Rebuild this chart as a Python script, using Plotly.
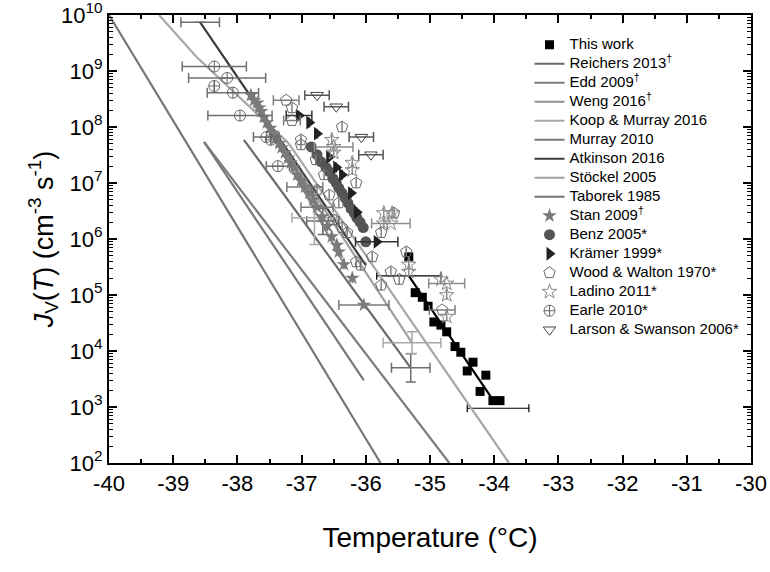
import plotly.graph_objects as go

# ---------------- data ----------------
# This work (black squares)
tw_T = [-35.33, -35.23, -35.12, -35.03, -34.94, -34.83, -34.74, -34.61, -34.52, -34.33, -34.42, -34.13, -34.22, -34.02, -33.91]
tw_J = [4.8e5, 1.1e5, 9.1e4, 6.3e4, 3.3e4, 2.9e4, 2.2e4, 1.2e4, 9.5e3, 6.3e3, 4.4e3, 3.7e3, 1.9e3, 1.3e3, 1.3e3]
tw_fit_T = [-35.33, -34.03]
tw_fit_J = [2.2e5, 1.4e3]
tw_err_T = [-35.33, -33.94]
tw_err_J = [2.2e5, 9.5e2]
tw_err_x = [0.5, 0.48]

# Lines
taborek_T = [-40.0, -35.77]
taborek_J = [1e10, 1e2]
koop_T = [-39.22, -38.64, -37.20, -35.48, -33.77]
koop_J = [1e10, 1.8e9, 5.1e7, 7.2e4, 1e2]
murray_T = [-38.52, -36.03]
murray_J = [5.4e7, 3.0e3]
edd_T = [-38.52, -34.70]
edd_J = [5.4e7, 1e2]
reichers_T = [-37.90, -35.30]
reichers_J = [5.9e7, 5.0e3]
atkinson_T = [-38.58, -36.00]
atkinson_J = [7.4e9, 3.4e5]
stockel_T = [-37.66, -35.28]
stockel_J = [2.0e8, 1.4e4]
weng_T = [-37.80, -36.30]
weng_J = [4.0e8, 3.0e5]

N = None  # no error bar on that point

# Stan 2009 (filled stars)
stan_T = [-37.79, -37.74, -37.69, -37.66, -37.63, -37.59, -37.54, -37.49, -37.45, -37.40,
          -37.35, -37.31, -37.26, -37.21, -37.17, -37.12, -37.07, -37.01, -36.95, -36.88,
          -36.82, -36.76, -36.68, -36.60, -36.53, -36.45, -36.42, -36.34, -36.21, -36.03]
stan_J = [3.7e8, 3.0e8, 2.7e8, 2.2e8, 1.9e8, 1.5e8, 1.2e8, 9.5e7, 7.8e7, 6.3e7,
          5.1e7, 4.3e7, 3.5e7, 2.8e7, 2.3e7, 1.9e7, 1.4e7, 1.1e7, 8.5e6, 6.6e6,
          5.0e6, 3.7e6, 2.5e6, 1.7e6, 1.1e6, 7.8e5, 5.9e5, 3.5e5, 2.0e5, 6.6e4]
stan_xerr = [N, N, N, N, N, N, N, N, N, N,
             N, N, N, N, N, N, N, N, 0.28, N,
             N, 0.25, N, N, N, N, N, N, N, 0.39]

# Benz 2005 (filled circles)
benz_T = [-36.85, -36.76, -36.70, -36.62, -36.57, -36.51, -36.46, -36.42, -36.37,
          -36.32, -36.28, -36.23, -36.18, -36.14, -36.09, -36.04, -36.00]
benz_J = [4.4e7, 3.2e7, 2.4e7, 1.9e7, 1.6e7, 1.2e7, 1.0e7, 8.1e6, 6.6e6,
          5.4e6, 4.4e6, 3.5e6, 2.9e6, 2.4e6, 2.0e6, 1.6e6, 8.9e5]

# Kramer 1999 (right triangles)
kramer_T = [-37.04, -36.88, -36.76, -36.57, -36.46, -36.37, -36.23, -36.14, -35.83]
kramer_J = [1.6e8, 1.2e8, 7.6e7, 2.9e7, 1.9e7, 1.4e7, 6.6e6, 3.0e6, 8.9e5]
kramer_xerr = [0.2, N, N, N, N, N, N, N, 0.33]

# Wood & Walton 1970 (open pentagons)
wood_T = [-37.24, -37.15, -37.15, -36.37, -37.01, -37.01, -36.78, -36.65, -36.15, -36.76,
          -36.57, -36.42, -36.50, -36.37, -36.29, -35.76, -35.56, -35.90, -35.37, -36.15,
          -36.08, -35.61, -35.48, -35.76, -34.81]
wood_J = [3.0e8, 2.2e8, 1.3e8, 1.0e8, 5.9e7, 4.8e7, 2.6e7, 1.4e7, 1.0e7, 7.5e6,
          6.1e6, 4.4e6, 2.2e6, 1.6e6, 1.3e6, 1.3e6, 2.9e6, 4.8e5, 5.9e5, 3.9e5,
          3.4e5, 2.6e5, 1.9e5, 1.5e5, 5.4e4]
wood_xerr = [0.2, N, 0.13, N, N, N, N, N, N, N,
             N, N, N, N, N, N, N, N, N, N,
             N, N, N, N, 0.2]

# Ladino 2011 (open stars)
ladino_T = [-36.53, -36.50, -36.50, -36.21, -36.21, -35.72, -35.59, -35.72, -35.61,
            -35.33, -35.33, -34.83, -34.74, -34.74, -34.74]
ladino_J = [5.9e7, 4.4e7, 3.5e7, 2.3e7, 1.7e7, 2.9e6, 2.9e6, 1.9e6, 1.9e6,
            3.5e5, 2.6e5, 1.9e5, 1.6e5, 1.0e5, 4.1e4]
ladino_xerr = [N, 0.3, N, N, N, N, N, N, 0.3, N, N, N, 0.28, N, N]

# Earle 2010 (crossed circles)
earle_T = [-38.36, -38.16, -38.36, -38.07, -37.96, -37.55, -37.48, -37.37]
earle_J = [1.2e9, 7.5e8, 5.4e8, 4.1e8, 1.6e8, 6.6e7, 5.9e7, 2.0e7]
earle_xerr = [0.5, 0.6, N, 0.4, 0.5, 0.2, N, 0.18]

# Larson & Swanson 2006 (open down triangles)
larson_T = [-36.76, -36.46, -36.07, -35.92]
larson_J = [3.7e8, 2.3e8, 6.6e7, 3.2e7]
larson_xerr = [0.19, 0.19, 0.19, 0.19]

# stand-alone error crosses
cross_dark_T = [-35.30, -36.67, -38.58]
cross_dark_J = [5.0e3, 2.1e6, 7.4e9]
cross_dark_xerr = [0.3, 0.25, 0.3]
cross_dark_yup = [3.9e3, 1.4e6, N]
cross_dark_ydn = [2.2e3, 0.9e6, N]
cross_light_T = [-35.28, -36.80]
cross_light_J = [1.4e4, 2.4e6]
cross_light_xerr = [0.45, 0.35]
cross_light_yup = [8.0e3, 4.0e6]
cross_light_ydn = [5.0e3, 1.6e6]

# axis ticks
x_ticks = [-40, -39, -38, -37, -36, -35, -34, -33, -32, -31, -30]
x_ticktext = ["-40", "-39", "-38", "-37", "-36", "-35", "-34", "-33", "-32", "-31", "-30"]
y_ticks = [1e2, 1e3, 1e4, 1e5, 1e6, 1e7, 1e8, 1e9, 1e10]
y_ticktext = ["10<sup>2</sup>", "10<sup>3</sup>", "10<sup>4</sup>", "10<sup>5</sup>", "10<sup>6</sup>",
              "10<sup>7</sup>", "10<sup>8</sup>", "10<sup>9</sup>", "10<sup>10</sup>"]

# ---------------- figure ----------------
FONT = "Arial, Liberation Sans, sans-serif"


def lg(s):
    return '<span style="font-size:15px">' + s + "</span>"


def ebar(arr, col):
    return dict(type="data", array=arr, color=col, thickness=1.5, width=5)


fig = go.Figure()

fig.add_trace(go.Scatter(x=tw_fit_T, y=tw_fit_J, mode="lines", line=dict(color="black", width=2.2),
                         showlegend=False, hoverinfo="skip"))
fig.add_trace(go.Scatter(x=tw_err_T, y=tw_err_J, mode="markers", marker=dict(size=1, color="rgba(0,0,0,0)"),
                         error_x=dict(type="data", array=tw_err_x, color="black", thickness=1.2, width=4),
                         showlegend=False, hoverinfo="skip"))
fig.add_trace(go.Scatter(x=tw_T, y=tw_J, mode="markers", name=lg("This work"),
                         marker=dict(symbol="square", size=9, color="black")))

line_specs = [
    ("Reichers 2013<sup>†</sup>", reichers_T, reichers_J, "#6a6a6a"),
    ("Edd 2009<sup>†</sup>", edd_T, edd_J, "#7c7c7c"),
    ("Weng 2016<sup>†</sup>", weng_T, weng_J, "#8e8e8e"),
    ("Koop & Murray 2016", koop_T, koop_J, "#a8a8a8"),
    ("Murray 2010", murray_T, murray_J, "#787878"),
    ("Atkinson 2016", atkinson_T, atkinson_J, "#3c3c3c"),
    ("Stöckel 2005", stockel_T, stockel_J, "#a0a0a0"),
    ("Taborek 1985", taborek_T, taborek_J, "#767676"),
]
for name, xs, ys, col in line_specs:
    fig.add_trace(go.Scatter(x=xs, y=ys, mode="lines", name=lg(name), line=dict(color=col, width=2.2)))

fig.add_trace(go.Scatter(x=cross_dark_T, y=cross_dark_J, mode="markers", marker=dict(size=1, color="rgba(0,0,0,0)"),
                         error_x=ebar(cross_dark_xerr, "#6e6e6e"),
                         error_y=dict(type="data", array=cross_dark_yup, arrayminus=cross_dark_ydn, color="#6e6e6e", thickness=1.5, width=5),
                         showlegend=False, hoverinfo="skip"))
fig.add_trace(go.Scatter(x=cross_light_T, y=cross_light_J, mode="markers", marker=dict(size=1, color="rgba(0,0,0,0)"),
                         error_x=ebar(cross_light_xerr, "#a8a8a8"),
                         error_y=dict(type="data", array=cross_light_yup, arrayminus=cross_light_ydn, color="#a8a8a8", thickness=1.5, width=5),
                         showlegend=False, hoverinfo="skip"))

fig.add_trace(go.Scatter(x=stan_T, y=stan_J, mode="markers", name=lg("Stan 2009<sup>†</sup>"),
                         marker=dict(symbol="star", size=11, color="#7a7a7a"),
                         error_x=ebar(stan_xerr, "#7a7a7a")))
fig.add_trace(go.Scatter(x=benz_T, y=benz_J, mode="markers", name=lg("Benz 2005*"),
                         marker=dict(symbol="circle", size=11, color="#555555")))
fig.add_trace(go.Scatter(x=kramer_T, y=kramer_J, mode="markers", name=lg("Krämer 1999*"),
                         marker=dict(symbol="triangle-right", size=12, color="#222222"),
                         error_x=ebar(kramer_xerr, "#333333")))
fig.add_trace(go.Scatter(x=wood_T, y=wood_J, mode="markers", name=lg("Wood & Walton 1970*"),
                         marker=dict(symbol="pentagon-open", size=12, color="#666666", line=dict(width=1)),
                         error_x=ebar(wood_xerr, "#808080")))
fig.add_trace(go.Scatter(x=ladino_T, y=ladino_J, mode="markers", name=lg("Ladino 2011*"),
                         marker=dict(symbol="star-open", size=11, color="#888888", line=dict(width=1)),
                         error_x=ebar(ladino_xerr, "#8c8c8c")))
fig.add_trace(go.Scatter(x=earle_T, y=earle_J, mode="markers", name=lg("Earle 2010*"),
                         marker=dict(symbol="circle-cross-open", size=11, color="#666666", line=dict(width=1)),
                         error_x=ebar(earle_xerr, "#707070")))
fig.add_trace(go.Scatter(x=larson_T, y=larson_J, mode="markers", name=lg("Larson & Swanson 2006*"),
                         marker=dict(symbol="triangle-down-open", size=11, color="#444444", line=dict(width=1)),
                         error_x=ebar(larson_xerr, "#555555")))

fig.update_layout(
    width=770, height=572,
    margin=dict(l=109, r=19, t=15, b=109),
    paper_bgcolor="white", plot_bgcolor="white",
    font=dict(family=FONT, color="black"),
    legend=dict(x=0.655, y=0.966, xanchor="left", yanchor="top", bgcolor="rgba(0,0,0,0)",
                font=dict(size=12, family=FONT), itemwidth=30, tracegroupgap=0),
)
fig.update_xaxes(
    range=[-40.0001, -29.9999], tickvals=x_ticks, ticktext=x_ticktext, automargin=False,
    ticklabeloverflow="allow",
    showline=True, linecolor="black", linewidth=2, mirror="ticks",
    ticks="inside", ticklen=8, tickwidth=2, tickcolor="black",
    minor=dict(ticks="inside", ticklen=4, tickwidth=1.5, dtick=0.5, tickcolor="black"),
    showgrid=False, zeroline=False,
    tickfont=dict(size=22),
    title=dict(text="Temperature (°C)", font=dict(size=28), standoff=32),
)
fig.update_yaxes(
    type="log", range=[1.9999, 10.0001], tickvals=y_ticks, ticktext=y_ticktext, automargin=False,
    ticklabeloverflow="allow",
    showline=True, linecolor="black", linewidth=2, mirror="ticks",
    ticks="inside", ticklen=8, tickwidth=2, tickcolor="black",
    minor=dict(ticks="inside", ticklen=4, tickwidth=1, dtick="D1", tickcolor="black"),
    showgrid=False, zeroline=False,
    tickfont=dict(size=22),
    title=dict(text="<i>J</i><sub>V</sub>(<i>T</i>) (cm<sup>-3</sup> s<sup>-1</sup>)", font=dict(size=27), standoff=0),
)

# remove the default 8px page margin so the 770x572 figure fills the window exactly
fig.write_html("out.html", config={"displayModeBar": False},
               post_script="document.body.style.margin='0';document.body.style.overflow='hidden';")
